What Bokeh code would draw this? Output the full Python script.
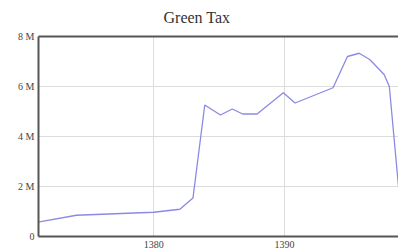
from bokeh.plotting import figure
from bokeh.models import Range1d, LinearAxis, FixedTicker, Title, Grid
from bokeh.embed import file_html
from bokeh.resources import INLINE

years = [1371.1, 1374.1, 1380.0, 1382.0, 1383.0, 1383.9, 1385.1, 1386.0, 1386.8,
         1387.9, 1389.9, 1390.8, 1393.7, 1394.8, 1395.7, 1396.5, 1397.6, 1398.0, 1398.7]
tax = [0.57e6, 0.85e6, 0.97e6, 1.09e6, 1.54e6, 5.26e6, 4.86e6, 5.10e6, 4.90e6,
       4.90e6, 5.75e6, 5.34e6, 5.95e6, 7.20e6, 7.33e6, 7.08e6, 6.48e6, 6.00e6, 2.00e6]
x_ticks = [1380, 1390]
y_ticks = [0, 2e6, 4e6, 6e6, 8e6]
y_labels = ["0", "2 M", "4 M", "6 M", "8 M"]
title_text = "Green Tax"

FONT = "Liberation Serif"

p = figure(width=398, height=250, output_backend="svg", toolbar_location=None,
           x_range=Range1d(1371.2, 1398.7), y_range=Range1d(0, 8e6),
           min_border_left=38, min_border_right=0, min_border_top=8, min_border_bottom=0,
           x_axis_type=None, y_axis_type=None)
p.outline_line_color = None
p.background_fill_color = "white"
p.border_fill_color = "white"

ta = LinearAxis(ticker=FixedTicker(ticks=[]))
ta.axis_line_width = 2
ta.axis_line_color = "#555555"
ta.major_tick_out = 0
ta.major_tick_in = 0
ta.minor_tick_out = 0
ta.minor_tick_in = 0
ta.major_label_text_font_size = "0px"
p.add_layout(ta, "above")

t = Title(text=title_text, align="left", offset=125, text_font=FONT, standoff=17,
          vertical_align="top",
          text_font_size="16px", text_font_style="normal", text_color="#333333")
p.add_layout(t, "above")

xa = LinearAxis(ticker=FixedTicker(ticks=x_ticks))
xa.axis_line_width = 2
xa.axis_line_color = "#555555"
xa.major_tick_out = 0
xa.major_tick_in = 0
xa.minor_tick_out = 0
xa.minor_tick_in = 0
xa.major_label_standoff = 4
xa.major_label_text_font = FONT
xa.major_label_text_font_size = "10px"
xa.major_label_text_color = "#444444"
p.add_layout(xa, "below")

ya = LinearAxis(ticker=FixedTicker(ticks=y_ticks))
ya.major_label_overrides = {t_: l for t_, l in zip(y_ticks, y_labels)}
ya.axis_line_width = 2
ya.axis_line_color = "#555555"
ya.major_tick_out = 0
ya.major_tick_in = 0
ya.minor_tick_out = 0
ya.minor_tick_in = 0
ya.major_label_standoff = 4
ya.major_label_text_font = FONT
ya.major_label_text_font_size = "10px"
ya.major_label_text_color = "#444444"
p.add_layout(ya, "left")

xg = Grid(dimension=0, ticker=FixedTicker(ticks=x_ticks),
          grid_line_color="#dcdcdc", grid_line_width=1)
yg = Grid(dimension=1, ticker=FixedTicker(ticks=y_ticks),
          grid_line_color="#dcdcdc", grid_line_width=1)
p.add_layout(xg, "center")
p.add_layout(yg, "center")

p.line(years, tax, line_color="#8a8ae4", line_width=1.3)

open("out.html", "w").write(file_html(p, INLINE))
